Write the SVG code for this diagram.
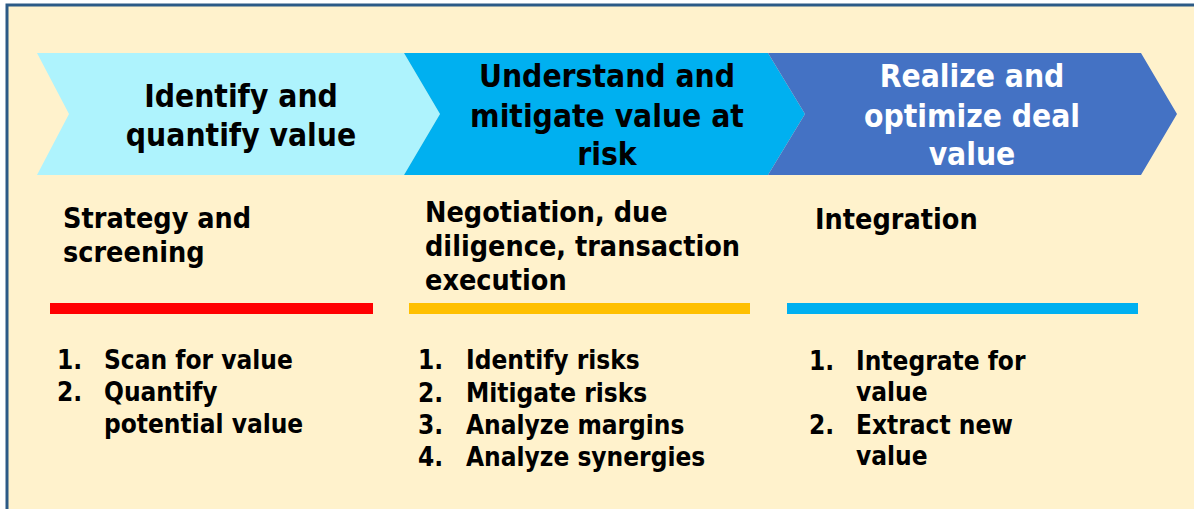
<svg xmlns="http://www.w3.org/2000/svg" width="1194" height="509" viewBox="0 0 1194 509">
<style>
text{font-family:"DejaVu Sans Condensed","DejaVu Sans",sans-serif;font-stretch:condensed;font-weight:bold;fill:#000}
.hd{font-size:31.5px;text-anchor:middle}
.sub{font-size:28.5px}
.li{font-size:26px}
.w{fill:#fff}
</style>
<rect x="7" y="5" width="1200" height="520" fill="#FFF2CC" stroke="#2C5A86" stroke-width="3"/>
<g id="phase1">
<path d="M37,53 L404,53 L440,114 L404,175 L37,175 L69,114 Z" fill="#AEF3FD"/>
<text class="hd" x="241" y="107">Identify and</text>
<text class="hd" x="241" y="146">quantify value</text>
</g>
<g id="phase2">
<path d="M404,53 L768,53 L805,114 L768,175 L404,175 L440,114 Z" fill="#00B0F0"/>
<text class="hd" x="607" y="87">Understand and</text>
<text class="hd" x="607" y="127">mitigate value at</text>
<text class="hd" x="607" y="165">risk</text>
</g>
<g id="phase3">
<path d="M768,53 L1141,53 L1177,114 L1141,175 L768,175 L805,114 Z" fill="#4472C4"/>
<text class="hd w" x="972" y="87">Realize and</text>
<text class="hd w" x="972" y="127">optimize deal</text>
<text class="hd w" x="972" y="165">value</text>
</g>
<g id="col1">
<text class="sub" x="63" y="228">Strategy and</text>
<text class="sub" x="63" y="262">screening</text>
<rect x="50" y="303" width="323" height="11" fill="#FF0000"/>
<text class="li" x="57" y="369">1.</text><text class="li" x="104" y="369">Scan for value</text>
<text class="li" x="57" y="401">2.</text><text class="li" x="104" y="401">Quantify</text>
<text class="li" x="104" y="433">potential value</text>
</g>
<g id="col2">
<text class="sub" x="425" y="222">Negotiation, due</text>
<text class="sub" x="425" y="256">diligence, transaction</text>
<text class="sub" x="425" y="290">execution</text>
<rect x="409" y="303" width="341" height="11" fill="#FFC000"/>
<text class="li" x="418" y="369">1.</text><text class="li" x="466" y="369">Identify risks</text>
<text class="li" x="418" y="402">2.</text><text class="li" x="466" y="402">Mitigate risks</text>
<text class="li" x="418" y="434">3.</text><text class="li" x="466" y="434">Analyze margins</text>
<text class="li" x="418" y="466">4.</text><text class="li" x="466" y="466">Analyze synergies</text>
</g>
<g id="col3">
<text class="sub" x="815" y="229">Integration</text>
<rect x="787" y="303" width="351" height="11" fill="#00B0F0"/>
<text class="li" x="809" y="370">1.</text><text class="li" x="856" y="370">Integrate for</text>
<text class="li" x="856" y="401">value</text>
<text class="li" x="809" y="434">2.</text><text class="li" x="856" y="434">Extract new</text>
<text class="li" x="856" y="465">value</text>
</g>
<g id="connectors"/>
</svg>
